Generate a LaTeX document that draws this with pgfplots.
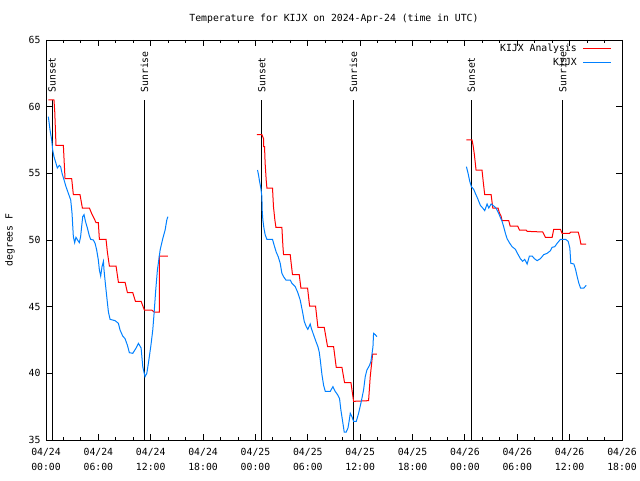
\documentclass[border=0pt]{standalone}
\usepackage{fontspec}
\setmainfont{DejaVu Sans Mono}
\usepackage{pgfplots}
\pgfplotsset{compat=1.18}
\definecolor{obsblue}{RGB}{0,128,255}
\newcommand{\gfont}{\fontsize{9.8}{14.8}\selectfont}
\begin{document}
\begin{tikzpicture}
\useasboundingbox (0,0) rectangle (640pt,480pt);
\node[font=\gfont] at (334pt,461pt) {Temperature for KIJX on 2024-Apr-24 (time in UTC)};
\node[font=\gfont, rotate=90] at (10pt,240pt) {degrees F};
\begin{axis}[
  at={(46pt,40pt)}, anchor=south west,
  scale only axis, width=576pt, height=400pt,
  xmin=0, xmax=66, ymin=35, ymax=65,
  xtick={0,6,...,66},
  xticklabels={{04/24\\00:00},{04/24\\06:00},{04/24\\12:00},{04/24\\18:00},{04/25\\00:00},{04/25\\06:00},{04/25\\12:00},{04/25\\18:00},{04/26\\00:00},{04/26\\06:00},{04/26\\12:00},{04/26\\18:00}},
  minor x tick num=2,
  ytick={35,40,...,65},
  tick align=inside,
  major tick length=6pt, minor tick length=3pt,
  axis line style={line width=0.9pt},
  tick style={black, line width=0.9pt},
  xticklabel style={align=center, font=\gfont, yshift=-5pt},
  yticklabel style={font=\gfont, xshift=-2pt},
  /pgf/number format/assume math mode=true,
  unbounded coords=jump,
  x filter/.expression={1.0044*x},
  legend style={at={(rel axis cs:1,1)}, anchor=north east, draw=none, fill=none, font=\gfont, xshift=-10pt, yshift=-2pt, row sep=1pt, column sep=4pt, inner sep=0pt},
  legend cell align=right,
  legend plot pos=right,
  legend image code/.code={\draw[#1, line width=1pt] (0pt,0pt) -- (28pt,0pt);},
]
% sunset / sunrise markers
\addplot[black, line width=1pt, forget plot] coordinates {(0.685,35) (0.685,60.5)} node[pos=1, rotate=90, anchor=west, inner sep=0pt, font=\gfont] {\kern7pt Sunset};
\addplot[black, line width=1pt, forget plot] coordinates {(11.22,35) (11.22,60.5)} node[pos=1, rotate=90, anchor=west, inner sep=0pt, font=\gfont] {\kern7pt Sunrise};
\addplot[black, line width=1pt, forget plot] coordinates {(24.63,35) (24.63,60.5)} node[pos=1, rotate=90, anchor=west, inner sep=0pt, font=\gfont] {\kern7pt Sunset};
\addplot[black, line width=1pt, forget plot] coordinates {(35.09,35) (35.09,60.5)} node[pos=1, rotate=90, anchor=west, inner sep=0pt, font=\gfont] {\kern7pt Sunrise};
\addplot[black, line width=1pt, forget plot] coordinates {(48.53,35) (48.53,60.5)} node[pos=1, rotate=90, anchor=west, inner sep=0pt, font=\gfont] {\kern7pt Sunset};
\addplot[black, line width=1pt, forget plot] coordinates {(58.95,35) (58.95,60.5)} node[pos=1, rotate=90, anchor=west, inner sep=0pt, font=\gfont] {\kern7pt Sunrise};
% analysis (red)
\addplot[red, line width=1pt] coordinates {
(0.27,60.5) (0.91,60.5) (1.0,59.6) (1.14,57.1) (1.98,57.1) (2.17,54.6) (2.93,54.6) (3.12,53.4) (3.88,53.4) (4.15,52.4) (4.95,52.4) (5.2,52.0) (5.5,51.6) (5.71,51.3) (5.97,51.3) (6.09,50.05) (6.85,50.05) (7.0,49.1) (7.23,48.05) (7.99,48.05) (8.26,46.83) (9.02,46.83) (9.29,46.05) (9.9,46.05) (10.2,45.4) (10.85,45.4) (11.22,44.75) (12.06,44.75) (12.33,44.6) (12.94,44.6) (12.94,48.8) (13.9,48.8)
(18,nan)
(24.06,57.9) (24.63,57.9) (24.82,57.6) (24.82,57.0) (24.93,57.0) (25.0,55.75) (25.12,54.5) (25.2,53.9) (25.84,53.9) (25.95,52.5) (26.11,51.5) (26.23,50.95) (26.91,50.95) (27.03,49.5) (27.1,48.9) (27.86,48.9) (27.97,48.25) (28.12,47.4) (28.89,47.4) (29.08,46.4) (29.84,46.4) (30.07,45.05) (30.75,45.05) (31.02,43.45) (31.74,43.45) (32.12,42.0) (32.81,42.0) (33.11,40.45) (33.76,40.45) (34.06,39.3) (34.79,39.3) (35.09,37.9) (36.8,37.95) (36.99,39.75) (37.26,41.45) (37.75,41.45)
(42,nan)
(47.96,57.5) (48.6,57.5) (48.72,57.1) (48.87,56.4) (49.06,55.25) (49.74,55.25) (49.9,54.25) (50.05,53.4) (50.78,53.4) (50.97,52.4) (51.57,52.4) (51.72,52.05) (51.91,51.8) (52.03,51.45) (52.79,51.45) (52.95,51.05) (53.81,51.05) (54.01,50.75) (54.77,50.75) (54.89,50.65) (56.67,50.6) (56.98,50.2) (57.74,50.2) (57.92,50.8) (58.69,50.8) (58.88,50.5) (59.72,50.5) (59.87,50.6) (60.71,50.6) (60.86,50.25) (61.02,49.7) (61.63,49.7)
};
\addlegendentry{KIJX Analysis}
% observations (blue)
\addplot[obsblue, line width=1pt] coordinates {
(0.27,59.25) (0.46,58.25) (0.65,57.5) (0.76,56.75) (0.91,56.25) (1.14,55.75) (1.29,55.4) (1.52,55.6) (1.67,55.5) (1.83,55.0) (2.06,54.5) (2.28,54.0) (2.55,53.5) (2.82,53.0) (2.97,52.0) (3.12,50.25) (3.27,49.8) (3.42,50.2) (3.6,50.0) (3.8,49.8) (3.95,50.25) (4.05,50.9) (4.19,51.75) (4.34,51.9) (4.5,51.4) (4.72,50.9) (4.95,50.3) (5.1,50.05) (5.4,50.0) (5.6,49.75) (5.78,49.25) (5.97,48.5) (6.09,47.75) (6.24,47.3) (6.39,48.0) (6.55,48.4) (6.62,47.75) (6.77,46.75) (6.93,45.75) (7.12,44.6) (7.31,44.05) (7.88,43.95) (8.26,43.75) (8.45,43.25) (8.75,42.8) (9.02,42.6) (9.29,42.1) (9.51,41.55) (9.9,41.5) (10.28,41.9) (10.54,42.25) (10.85,41.9) (11.04,40.5) (11.19,40.05) (11.3,39.75) (11.5,40.0) (11.68,40.75) (11.95,42.0) (12.18,43.25) (12.33,44.5) (12.52,46.25) (12.71,47.75) (13.02,49.25) (13.32,50.1) (13.59,50.75) (13.78,51.5) (13.9,51.75)
(18,nan)
(24.13,55.25) (24.24,54.9) (24.36,54.4) (24.51,53.9) (24.63,53.25) (24.66,52.25) (24.74,51.5) (24.86,50.9) (25.0,50.4) (25.2,50.05) (25.84,50.05) (26.03,49.6) (26.26,49.1) (26.49,48.75) (26.72,48.25) (26.91,47.5) (27.1,47.25) (27.37,47.0) (27.86,47.0) (28.06,46.75) (28.43,46.5) (28.7,46.1) (29.0,45.5) (29.27,44.6) (29.46,43.9) (29.69,43.5) (29.87,43.3) (30.14,43.7) (30.26,43.4) (30.52,42.9) (30.79,42.4) (31.02,42.0) (31.17,41.6) (31.29,41.0) (31.48,39.9) (31.67,39.1) (31.86,38.65) (32.43,38.65) (32.73,39.0) (32.99,38.65) (33.26,38.4) (33.49,38.1) (33.64,37.25) (33.84,36.4) (34.02,35.6) (34.25,35.6) (34.45,35.9) (34.6,36.5) (34.71,37.0) (34.9,36.75) (35.09,36.4) (35.4,36.4) (35.66,37.0) (35.97,37.9) (36.23,38.75) (36.42,39.75) (36.61,40.25) (36.91,40.6) (37.07,40.9) (37.18,41.4) (37.3,42.0) (37.37,43.0) (37.56,42.9) (37.75,42.75)
(42,nan)
(47.96,55.5) (48.15,55.0) (48.34,54.4) (48.53,54.0) (48.79,53.8) (48.98,53.5) (49.25,53.1) (49.55,52.6) (49.82,52.4) (50.05,52.2) (50.32,52.7) (50.51,52.4) (50.78,52.7) (51.08,52.55) (51.34,52.4) (51.64,52.0) (51.83,51.7) (52.03,51.4) (52.21,51.0) (52.41,50.5) (52.6,50.1) (52.86,49.8) (53.17,49.5) (53.55,49.3) (53.74,49.05) (54.12,48.6) (54.38,48.4) (54.61,48.55) (54.89,48.2) (55.15,48.8) (55.46,48.8) (55.72,48.6) (56.03,48.45) (56.4,48.6) (56.78,48.9) (57.17,49.0) (57.55,49.2) (57.74,49.45) (58.04,49.5) (58.31,49.75) (58.69,50.05) (59.27,50.05) (59.57,49.9) (59.76,49.4) (59.87,48.25) (60.22,48.2) (60.41,47.8) (60.6,47.25) (60.79,46.75) (60.98,46.4) (61.36,46.4) (61.63,46.6)
};
\addlegendentry{KIJX}
\end{axis}
\end{tikzpicture}
\end{document}
